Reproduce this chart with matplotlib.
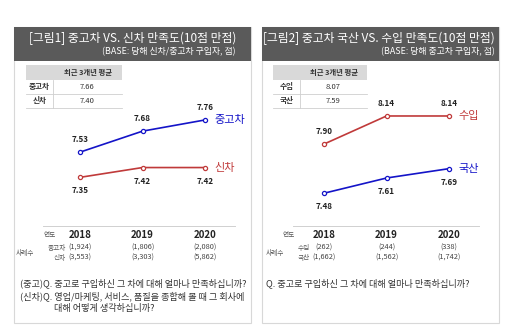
import matplotlib
matplotlib.use("Agg")
import matplotlib.pyplot as plt
import matplotlib.transforms as mtransforms
from matplotlib.patches import Rectangle
from matplotlib.lines import Line2D

plt.rcParams['font.family'] = ['Noto Sans CJK KR', 'DejaVu Sans']

W, H = 512, 335

# ---- data ----
years = [2018, 2019, 2020]

# figure 1
title1 = "[그림1] 중고차 VS. 신차 만족도(10점 만점)"
base1 = "(BASE: 당해 신차/중고차 구입자, 점)"
used = [7.53, 7.68, 7.76]
new = [7.35, 7.42, 7.42]
avg1_labels = ["중고차", "신차"]
avg1_values = ["7.66", "7.40"]
n1_labels = ["중고차", "신차"]
n1_used = ["(1,924)", "(1,806)", "(2,080)"]
n1_new = ["(3,553)", "(3,303)", "(5,862)"]
q1 = ["(중고)Q. 중고로 구입하신 그 차에 대해 얼마나 만족하십니까?",
      "(신차)Q. 영업/마케팅, 서비스, 품질을 종합해 볼 때 그 회사에",
      "대해 어떻게 생각하십니까?"]

# figure 2
title2 = "[그림2] 중고차 국산 VS. 수입 만족도(10점 만점)"
base2 = "(BASE: 당해 중고차 구입자, 점)"
imported = [7.90, 8.14, 8.14]
domestic = [7.48, 7.61, 7.69]
avg2_labels = ["수입", "국산"]
avg2_values = ["8.07", "7.59"]
n2_labels = ["수입", "국산"]
n2_imp = ["(262)", "(244)", "(338)"]
n2_dom = ["(1,662)", "(1,562)", "(1,742)"]
q2 = ["Q. 중고로 구입하신 그 차에 대해 얼마나 만족하십니까?"]

table_head = "최근 3개년 평균"
BLUE = '#1414c8'
RED = '#c03a3a'
DARK = '#5a5a5a'
TXT = '#333333'


def fx(px):
    return px / W


def fy(py):
    return 1 - py / H


fig = plt.figure(figsize=(W / 100, H / 100), dpi=100)
fig.patch.set_facecolor('white')


def panel(x0, x1, title, base, tx):
    fig.add_artist(Rectangle((fx(x0), fy(323)), fx(x1) - fx(x0), fy(27) - fy(323),
                             transform=fig.transFigure, facecolor='white',
                             edgecolor='#d8d8d8', lw=0.8, zorder=-2))
    fig.add_artist(Rectangle((fx(x0), fy(61)), fx(x1) - fx(x0), fy(27) - fy(61),
                             transform=fig.transFigure, facecolor=DARK,
                             edgecolor='none', zorder=-1))
    fig.text(fx(tx), fy(38), title, color='white', fontsize=8.5,
             ha='right', va='center')
    fig.text(fx(tx), fy(52), base, color='white', fontsize=6.4,
             ha='right', va='center')


def table(x0, xm, x1, labels, values):
    rows = [65, 80, 94, 108]
    fig.add_artist(Rectangle((fx(x0), fy(rows[1])), fx(x1) - fx(x0), fy(rows[0]) - fy(rows[1]),
                             transform=fig.transFigure, facecolor='#d9d9d9',
                             edgecolor='none', zorder=-1))
    fig.text(fx((xm + x1) / 2), fy((rows[0] + rows[1]) / 2), table_head,
             fontsize=5.3, fontweight='bold', color=TXT, ha='center', va='center')
    for i, (lab, val) in enumerate(zip(labels, values)):
        yc = (rows[i + 1] + rows[i + 2]) / 2
        fig.text(fx((x0 + xm) / 2), fy(yc), lab, fontsize=5.5, fontweight='bold',
                 color=TXT, ha='center', va='center')
        fig.text(fx((xm + x1) / 2), fy(yc), val, fontsize=5.5,
                 color=TXT, ha='center', va='center')
        fig.add_artist(Line2D([fx(x0), fx(x1)], [fy(rows[i + 2])] * 2,
                              transform=fig.transFigure, color='#cfcfcf', lw=0.6))
    fig.add_artist(Line2D([fx(xm), fx(xm)], [fy(rows[1]), fy(rows[3])],
                          transform=fig.transFigure, color='#cfcfcf', lw=0.6))


def chart(ax_px, xlim, ylim, series):
    l, r, t, b = ax_px
    ax = fig.add_axes([fx(l), fy(b), fx(r) - fx(l), fy(t) - fy(b)])
    ax.set_zorder(5)
    ax.set_xlim(*xlim)
    ax.set_ylim(*ylim)
    ax.axis('off')
    for vals, color, name, where in series:
        ax.plot(years, vals, color=color, lw=1.2, marker='o', ms=3,
                mfc='white', mec=color, mew=0.9, clip_on=False)
        off = 8.8 if where == 'above' else -9.8
        for x, v in zip(years, vals):
            ax.annotate(f"{v:.2f}", (x, v), xytext=(0, off), textcoords='offset points',
                        ha='center', va='center', fontsize=5.8, fontweight='bold',
                        color='#222222')
        ax.annotate(name, (years[-1], vals[-1]), xytext=(6.5, 0),
                    textcoords='offset points', ha='left', va='center',
                    fontsize=8, color=color)
    return ax


def bottom(ax, x_line, x_yr, x_sub, x_n, labels, rows, questions, q_x):
    fig.add_artist(Line2D([fx(x_line[0]), fx(x_line[1])], [fy(226)] * 2,
                          transform=fig.transFigure, color='#d0d0d0', lw=0.7))
    tr = mtransforms.blended_transform_factory(ax.transData, fig.transFigure)
    fig.text(fx(x_yr), fy(235), "연도", fontsize=4.8, style='italic',
             color='#555555', ha='center', va='center')
    fig.text(fx(x_n), fy(253), "사례수", fontsize=4.8, style='italic',
             color='#555555', ha='center', va='center')
    for lab, y in zip(labels, [248, 258]):
        fig.text(fx(x_sub), fy(y), lab, fontsize=4.8, style='italic',
                 color='#555555', ha='right', va='center')
    for i, yr in enumerate(years):
        fig.text(yr, fy(235), str(yr), transform=tr, fontsize=7, fontweight='bold',
                 color='#222222', ha='center', va='center')
        for row, y in zip(rows, [248, 258]):
            fig.text(yr, fy(y), row[i], transform=tr, fontsize=5.3,
                     color='#444444', ha='center', va='center')
    for (qx, qy), q in zip(q_x, questions):
        fig.text(fx(qx), fy(qy), q, fontsize=6.6, color=TXT, ha='left', va='center')


# ---- left panel ----
panel(14, 251, title1, base1, 236)
table(26, 53, 122, avg1_labels, avg1_values)
ax1 = chart((40, 240, 90, 215), (2017.36, 2020.56), (7.081, 7.974),
            [(used, BLUE, "중고차", 'above'), (new, RED, "신차", 'below')])
bottom(ax1, (43, 235), 50, 66, 25, n1_labels, [n1_used, n1_new], q1,
       [(20, 283), (20, 296.5), (54, 309)])

# ---- right panel ----
panel(262, 499, title2, base2, 495)
table(273, 300, 367, avg2_labels, avg2_values)
ax2 = chart((290, 490, 90, 215), (2017.456, 2020.656), (7.294, 8.362),
            [(imported, RED, "수입", 'above'), (domestic, BLUE, "국산", 'below')])
bottom(ax2, (293, 479), 289, 310, 275, n2_labels, [n2_imp, n2_dom], q2,
       [(266, 283)])

fig.savefig('out.png', dpi=100, facecolor='white')
